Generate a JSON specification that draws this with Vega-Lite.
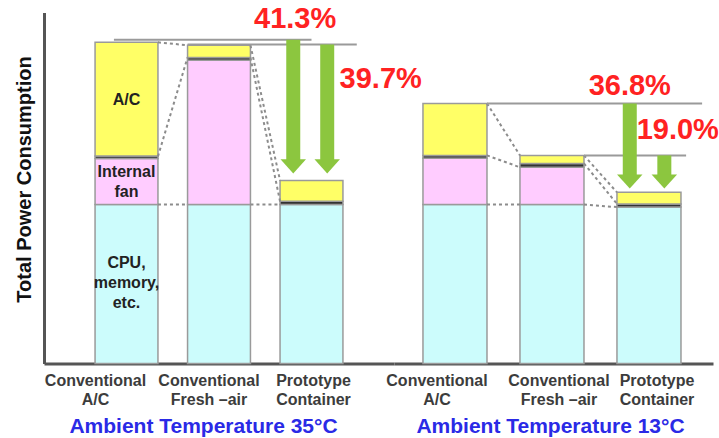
{
  "$schema": "https://vega.github.io/schema/vega-lite/v6.json",
  "padding": {"left": 14, "top": 4.5, "right": 0, "bottom": 0},
  "autosize": {"type": "pad"},
  "bounds": "flush",
  "spacing": 0,
  "config": {"view": {"stroke": null}, "font": "Liberation Sans"},
  "resolve": {"scale": {"x": "independent", "y": "independent"}},
  "datasets": {
    "bars": [
      {"panel": "35", "config": "Conventional|A/C", "component": "CPU, memory, etc.", "ord": 1, "value": 49.5},
      {"panel": "35", "config": "Conventional|A/C", "component": "Internal fan", "ord": 2, "value": 14.3},
      {"panel": "35", "config": "Conventional|A/C", "component": "Divider", "ord": 3, "value": 0.8},
      {"panel": "35", "config": "Conventional|A/C", "component": "A/C", "ord": 4, "value": 35.4},
      {"panel": "35", "config": "Conventional|Fresh –air", "component": "CPU, memory, etc.", "ord": 1, "value": 49.5},
      {"panel": "35", "config": "Conventional|Fresh –air", "component": "Internal fan", "ord": 2, "value": 44.9},
      {"panel": "35", "config": "Conventional|Fresh –air", "component": "Divider", "ord": 3, "value": 0.9},
      {"panel": "35", "config": "Conventional|Fresh –air", "component": "A/C", "ord": 4, "value": 3.8},
      {"panel": "35", "config": "Prototype|Container", "component": "CPU, memory, etc.", "ord": 1, "value": 49.5},
      {"panel": "35", "config": "Prototype|Container", "component": "Divider", "ord": 3, "value": 1.0},
      {"panel": "35", "config": "Prototype|Container", "component": "A/C", "ord": 4, "value": 6.5},
      {"panel": "13", "config": "Conventional|A/C", "component": "CPU, memory, etc.", "ord": 1, "value": 49.5},
      {"panel": "13", "config": "Conventional|A/C", "component": "Internal fan", "ord": 2, "value": 14.4},
      {"panel": "13", "config": "Conventional|A/C", "component": "Divider", "ord": 3, "value": 0.9},
      {"panel": "13", "config": "Conventional|A/C", "component": "A/C", "ord": 4, "value": 16.2},
      {"panel": "13", "config": "Conventional|Fresh –air", "component": "CPU, memory, etc.", "ord": 1, "value": 49.5},
      {"panel": "13", "config": "Conventional|Fresh –air", "component": "Internal fan", "ord": 2, "value": 11.6},
      {"panel": "13", "config": "Conventional|Fresh –air", "component": "Divider", "ord": 3, "value": 1.2},
      {"panel": "13", "config": "Conventional|Fresh –air", "component": "A/C", "ord": 4, "value": 2.5},
      {"panel": "13", "config": "Prototype|Container", "component": "CPU, memory, etc.", "ord": 1, "value": 48.7},
      {"panel": "13", "config": "Prototype|Container", "component": "Divider", "ord": 3, "value": 1.0},
      {"panel": "13", "config": "Prototype|Container", "component": "A/C", "ord": 4, "value": 3.6}
    ],
    "inlabels": [
      {"panel": "35", "config": "Conventional|A/C", "y": 81.9, "label": "A/C"},
      {"panel": "35", "config": "Conventional|A/C", "y": 59.5, "label": "Internal|fan"},
      {"panel": "35", "config": "Conventional|A/C", "y": 31.2, "label": "CPU,|memory,|etc."}
    ],
    "links": [
      {"panel": "35", "config": "Conventional|A/C", "to": "Conventional|Fresh –air", "y1": 100, "y2": 99.1},
      {"panel": "35", "config": "Conventional|A/C", "to": "Conventional|Fresh –air", "y1": 64.5, "y2": 95.3},
      {"panel": "35", "config": "Conventional|A/C", "to": "Conventional|Fresh –air", "y1": 49.5, "y2": 49.5},
      {"panel": "35", "config": "Conventional|Fresh –air", "to": "Prototype|Container", "y1": 99.1, "y2": 57.0},
      {"panel": "35", "config": "Conventional|Fresh –air", "to": "Prototype|Container", "y1": 95.3, "y2": 50.5},
      {"panel": "35", "config": "Conventional|Fresh –air", "to": "Prototype|Container", "y1": 49.5, "y2": 49.5},
      {"panel": "13", "config": "Conventional|A/C", "to": "Conventional|Fresh –air", "y1": 81.0, "y2": 64.8},
      {"panel": "13", "config": "Conventional|A/C", "to": "Conventional|Fresh –air", "y1": 64.8, "y2": 61.1},
      {"panel": "13", "config": "Conventional|A/C", "to": "Conventional|Fresh –air", "y1": 49.5, "y2": 49.5},
      {"panel": "13", "config": "Conventional|Fresh –air", "to": "Prototype|Container", "y1": 64.8, "y2": 53.3},
      {"panel": "13", "config": "Conventional|Fresh –air", "to": "Prototype|Container", "y1": 62.3, "y2": 49.7},
      {"panel": "13", "config": "Conventional|Fresh –air", "to": "Prototype|Container", "y1": 49.5, "y2": 48.7}
    ],
    "refs": [
      {"panel": "35", "id": "r1", "config": "Conventional|A/C", "to": "Prototype|Container", "y": 100.8},
      {"panel": "35", "id": "r2", "config": "Conventional|Fresh –air", "to": "Prototype|Container", "y": 99.3},
      {"panel": "13", "id": "r3", "config": "Conventional|A/C", "to": "Prototype|Container", "y": 81.0},
      {"panel": "13", "id": "r4", "config": "Conventional|Fresh –air", "to": "Prototype|Container", "y": 64.8}
    ],
    "arrows": [
      {"panel": "35", "id": "a1", "config": "Prototype|Container", "top": 100.8, "tip": 59.2},
      {"panel": "35", "id": "a2", "config": "Prototype|Container", "top": 99.3, "tip": 59.2},
      {"panel": "13", "id": "a3", "config": "Prototype|Container", "top": 81.0, "tip": 54.5},
      {"panel": "13", "id": "a4", "config": "Prototype|Container", "top": 64.8, "tip": 54.5}
    ],
    "pct": [
      {"panel": "35", "id": "p1", "config": "Prototype|Container", "y": 107.2, "label": "41.3%"},
      {"panel": "35", "id": "p2", "config": "Prototype|Container", "y": 88.5, "label": "39.7%"},
      {"panel": "13", "id": "p3", "config": "Prototype|Container", "y": 86.3, "label": "36.8%"},
      {"panel": "13", "id": "p4", "config": "Prototype|Container", "y": 72.6, "label": "19.0%"}
    ]
  },
  "hconcat": [
    {
      "width": 350,
      "height": 351,
      "layer": [
        {
          "data": {"name": "bars"},
          "transform": [{"filter": "datum.panel == '35'"}],
          "mark": {"type": "bar", "stroke": "#9a9a9a", "strokeWidth": 1.5},
          "encoding": {
            "x": {"field": "config", "type": "nominal", "sort": null,
              "scale": {"domain": ["Conventional|A/C", "Conventional|Fresh –air", "Prototype|Container"], "paddingInner": 0.32, "paddingOuter": 0.552},
              "axis": {"title": "Ambient  Temperature 35°C", "labelExpr": "split(datum.value, '|')", "labelAngle": 0, "ticks": false, "labelPadding": 9, "labelLineHeight": 19,
                "labelOffset": {"condition": [{"test": "datum.value == 'Conventional|A/C'", "value": -31}, {"test": "datum.value == 'Conventional|Fresh –air'", "value": -10}], "value": 2},
                "domainColor": "#555555", "domainWidth": 3, "labelFont": "Liberation Sans", "labelFontSize": 16, "labelFontWeight": "bold", "labelColor": "#3c3c3c",
                "titleFont": "Liberation Sans", "titleFontSize": 21, "titleFontWeight": "bold", "titleColor": "#2a2ae6", "titleX": 159, "titleY": 63, "titleBaseline": "middle", "titleAlign": "center"}},
            "y": {"field": "value", "type": "quantitative", "stack": "zero",
              "scale": {"domain": [0, 109.3], "nice": false},
              "axis": {"title": "Total Power Consumption", "labels": false, "ticks": false, "grid": false, "domainColor": "#555555", "domainWidth": 3,
                "titleFont": "Liberation Sans", "titleFontSize": 20, "titleFontWeight": "bold", "titleColor": "#111111", "titlePadding": 10, "titleY": 166.5}},
            "color": {"field": "component", "type": "nominal", "legend": null,
              "scale": {"domain": ["CPU, memory, etc.", "Internal fan", "Divider", "A/C"], "range": ["#ccfcfc", "#ffccff", "#333333", "#ffff66"]}},
            "order": {"field": "ord", "type": "quantitative"}
          }
        },
        {
          "data": {"name": "inlabels"},
          "transform": [{"filter": "datum.panel == '35'"}],
          "mark": {"type": "text", "fontSize": 16, "fontWeight": "bold", "color": "#222222", "lineBreak": "|", "lineHeight": 20, "baseline": "middle", "align": "center"},
          "encoding": {
            "x": {"field": "config", "type": "nominal"},
            "y": {"field": "y", "type": "quantitative"},
            "text": {"field": "label"}
          }
        },
        {
          "data": {"name": "links"},
          "transform": [{"filter": "datum.panel == '35'"}],
          "mark": {"type": "rule", "stroke": "#8c8c8c", "strokeWidth": 2, "strokeDash": [3, 3]},
          "encoding": {
            "x": {"field": "config", "type": "nominal", "bandPosition": 1},
            "x2": {"field": "to", "bandPosition": 0},
            "y": {"field": "y1", "type": "quantitative"},
            "y2": {"field": "y2"}
          }
        },
        {
          "data": {"name": "refs"},
          "transform": [{"filter": "datum.id == 'r1'"}],
          "mark": {"type": "rule", "stroke": "#9a9a9a", "strokeWidth": 2},
          "encoding": {
            "x": {"field": "config", "type": "nominal", "bandPosition": 0.3},
            "x2": {"field": "to", "bandPosition": 0.5},
            "y": {"field": "y", "type": "quantitative"}
          }
        },
        {
          "data": {"name": "refs"},
          "transform": [{"filter": "datum.id == 'r2'"}],
          "mark": {"type": "rule", "stroke": "#9a9a9a", "strokeWidth": 2},
          "encoding": {
            "x": {"field": "config", "type": "nominal", "bandPosition": 0},
            "x2": {"field": "to", "bandPosition": 1.22},
            "y": {"field": "y", "type": "quantitative"}
          }
        },
        {
          "data": {"name": "arrows"},
          "transform": [{"filter": "datum.id == 'a1'"}],
          "mark": {"type": "rule", "stroke": "#8cc63f", "strokeWidth": 14, "y2Offset": -12},
          "encoding": {
            "x": {"field": "config", "type": "nominal", "bandPosition": 0.21},
            "y": {"field": "top", "type": "quantitative"},
            "y2": {"field": "tip"}
          }
        },
        {
          "data": {"name": "arrows"},
          "transform": [{"filter": "datum.id == 'a1'"}],
          "mark": {"type": "point", "shape": "M-1,-1.1L1,-1.1L0,0Z", "size": 650, "filled": true, "opacity": 1, "color": "#8cc63f"},
          "encoding": {
            "x": {"field": "config", "type": "nominal", "bandPosition": 0.21},
            "y": {"field": "tip", "type": "quantitative"}
          }
        },
        {
          "data": {"name": "arrows"},
          "transform": [{"filter": "datum.id == 'a2'"}],
          "mark": {"type": "rule", "stroke": "#8cc63f", "strokeWidth": 14, "y2Offset": -12},
          "encoding": {
            "x": {"field": "config", "type": "nominal", "bandPosition": 0.75},
            "y": {"field": "top", "type": "quantitative"},
            "y2": {"field": "tip"}
          }
        },
        {
          "data": {"name": "arrows"},
          "transform": [{"filter": "datum.id == 'a2'"}],
          "mark": {"type": "point", "shape": "M-1,-1.1L1,-1.1L0,0Z", "size": 650, "filled": true, "opacity": 1, "color": "#8cc63f"},
          "encoding": {
            "x": {"field": "config", "type": "nominal", "bandPosition": 0.75},
            "y": {"field": "tip", "type": "quantitative"}
          }
        },
        {
          "data": {"name": "pct"},
          "transform": [{"filter": "datum.id == 'p1'"}],
          "mark": {"type": "text", "fontSize": 29, "fontWeight": "bold", "color": "#ff2222", "baseline": "middle", "align": "center"},
          "encoding": {
            "x": {"field": "config", "type": "nominal", "bandPosition": 0.24},
            "y": {"field": "y", "type": "quantitative"},
            "text": {"field": "label"}
          }
        },
        {
          "data": {"name": "pct"},
          "transform": [{"filter": "datum.id == 'p2'"}],
          "mark": {"type": "text", "fontSize": 29, "fontWeight": "bold", "color": "#ff2222", "baseline": "middle", "align": "center"},
          "encoding": {
            "x": {"field": "config", "type": "nominal", "bandPosition": 1.6},
            "y": {"field": "y", "type": "quantitative"},
            "text": {"field": "label"}
          }
        }
      ]
    },
    {
      "width": 319,
      "height": 351,
      "layer": [
        {
          "data": {"name": "bars"},
          "transform": [{"filter": "datum.panel == '13'"}],
          "mark": {"type": "bar", "stroke": "#9a9a9a", "strokeWidth": 1.5},
          "encoding": {
            "x": {"field": "config", "type": "nominal", "sort": null,
              "scale": {"domain": ["Conventional|A/C", "Conventional|Fresh –air", "Prototype|Container"], "paddingInner": 0.34, "paddingOuter": 0.3144, "align": 0.475},
              "axis": {"title": "Ambient Temperature 13°C", "labelExpr": "split(datum.value, '|')", "labelAngle": 0, "ticks": false, "labelPadding": 9, "labelLineHeight": 19,
                "labelOffset": {"condition": [{"test": "datum.value == 'Conventional|A/C'", "value": -18}, {"test": "datum.value == 'Conventional|Fresh –air'", "value": 7}], "value": 8},
                "domainColor": "#555555", "domainWidth": 3, "labelFont": "Liberation Sans", "labelFontSize": 16, "labelFontWeight": "bold", "labelColor": "#3c3c3c",
                "titleFont": "Liberation Sans", "titleFontSize": 21, "titleFontWeight": "bold", "titleColor": "#2a2ae6", "titleX": 156, "titleY": 63, "titleBaseline": "middle", "titleAlign": "center"}},
            "y": {"field": "value", "type": "quantitative", "stack": "zero",
              "scale": {"domain": [0, 109.3], "nice": false}, "axis": null},
            "color": {"field": "component", "type": "nominal", "legend": null,
              "scale": {"domain": ["CPU, memory, etc.", "Internal fan", "Divider", "A/C"], "range": ["#ccfcfc", "#ffccff", "#333333", "#ffff66"]}},
            "order": {"field": "ord", "type": "quantitative"}
          }
        },
        {
          "data": {"name": "links"},
          "transform": [{"filter": "datum.panel == '13'"}],
          "mark": {"type": "rule", "stroke": "#8c8c8c", "strokeWidth": 2, "strokeDash": [3, 3]},
          "encoding": {
            "x": {"field": "config", "type": "nominal", "bandPosition": 1},
            "x2": {"field": "to", "bandPosition": 0},
            "y": {"field": "y1", "type": "quantitative", "axis": null},
            "y2": {"field": "y2"}
          }
        },
        {
          "data": {"name": "refs"},
          "transform": [{"filter": "datum.id == 'r3'"}],
          "mark": {"type": "rule", "stroke": "#9a9a9a", "strokeWidth": 2},
          "encoding": {
            "x": {"field": "config", "type": "nominal", "bandPosition": 1},
            "x2": {"field": "to", "bandPosition": 1.33},
            "y": {"field": "y", "type": "quantitative", "axis": null}
          }
        },
        {
          "data": {"name": "refs"},
          "transform": [{"filter": "datum.id == 'r4'"}],
          "mark": {"type": "rule", "stroke": "#9a9a9a", "strokeWidth": 2},
          "encoding": {
            "x": {"field": "config", "type": "nominal", "bandPosition": 1},
            "x2": {"field": "to", "bandPosition": 1.08},
            "y": {"field": "y", "type": "quantitative", "axis": null}
          }
        },
        {
          "data": {"name": "arrows"},
          "transform": [{"filter": "datum.id == 'a3'"}],
          "mark": {"type": "rule", "stroke": "#8cc63f", "strokeWidth": 14, "y2Offset": -12},
          "encoding": {
            "x": {"field": "config", "type": "nominal", "bandPosition": 0.2},
            "y": {"field": "top", "type": "quantitative", "axis": null},
            "y2": {"field": "tip"}
          }
        },
        {
          "data": {"name": "arrows"},
          "transform": [{"filter": "datum.id == 'a3'"}],
          "mark": {"type": "point", "shape": "M-1,-1.1L1,-1.1L0,0Z", "size": 650, "filled": true, "opacity": 1, "color": "#8cc63f"},
          "encoding": {
            "x": {"field": "config", "type": "nominal", "bandPosition": 0.2},
            "y": {"field": "tip", "type": "quantitative", "axis": null}
          }
        },
        {
          "data": {"name": "arrows"},
          "transform": [{"filter": "datum.id == 'a4'"}],
          "mark": {"type": "rule", "stroke": "#8cc63f", "strokeWidth": 14, "y2Offset": -12},
          "encoding": {
            "x": {"field": "config", "type": "nominal", "bandPosition": 0.74},
            "y": {"field": "top", "type": "quantitative", "axis": null},
            "y2": {"field": "tip"}
          }
        },
        {
          "data": {"name": "arrows"},
          "transform": [{"filter": "datum.id == 'a4'"}],
          "mark": {"type": "point", "shape": "M-1,-1.1L1,-1.1L0,0Z", "size": 650, "filled": true, "opacity": 1, "color": "#8cc63f"},
          "encoding": {
            "x": {"field": "config", "type": "nominal", "bandPosition": 0.74},
            "y": {"field": "tip", "type": "quantitative", "axis": null}
          }
        },
        {
          "data": {"name": "pct"},
          "transform": [{"filter": "datum.id == 'p3'"}],
          "mark": {"type": "text", "fontSize": 29, "fontWeight": "bold", "color": "#ff2222", "baseline": "middle", "align": "center"},
          "encoding": {
            "x": {"field": "config", "type": "nominal", "bandPosition": 0.2},
            "y": {"field": "y", "type": "quantitative", "axis": null},
            "text": {"field": "label"}
          }
        },
        {
          "data": {"name": "pct"},
          "transform": [{"filter": "datum.id == 'p4'"}],
          "mark": {"type": "text", "fontSize": 29, "fontWeight": "bold", "color": "#ff2222", "baseline": "middle", "align": "center"},
          "encoding": {
            "x": {"field": "config", "type": "nominal", "bandPosition": 0.95},
            "y": {"field": "y", "type": "quantitative", "axis": null},
            "text": {"field": "label"}
          }
        }
      ]
    }
  ]
}
